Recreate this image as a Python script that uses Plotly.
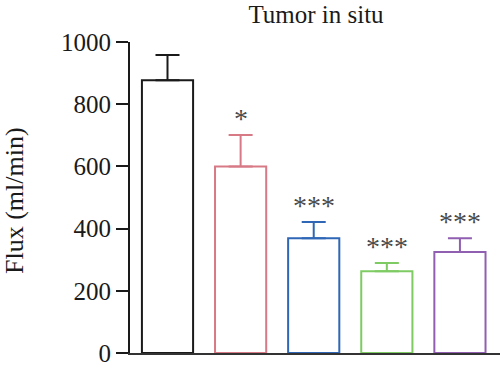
import plotly.graph_objects as go

groups = ["G1", "G2", "G3", "G4", "G5"]
means = [877, 600, 369, 263, 325]
err_up = [81, 101, 52, 26, 44]
stars = ["", "*", "***", "***", "***"]
colors = ["#1a1a1a", "#d87a85", "#2f67b6", "#7fcb63", "#915fb1"]
y_title = "Flux (ml/min)"
chart_title = "Tumor in situ"

xpos = list(range(len(groups)))
FONT = "Liberation Serif, Times New Roman, serif"

fig = go.Figure()
for i, g in enumerate(groups):
    fig.add_trace(go.Bar(
        x=[xpos[i]], y=[means[i]], width=0.70,
        marker=dict(color="white", line=dict(color=colors[i], width=2)),
        error_y=dict(type="data", array=[err_up[i]], arrayminus=[0], symmetric=False,
                     color=colors[i], thickness=2, width=12),
        showlegend=False, name=g,
    ))
    if stars[i]:
        fig.add_annotation(x=xpos[i], y=means[i] + err_up[i], text=stars[i],
                           showarrow=False, yanchor="bottom", yshift=-1,
                           font=dict(family=FONT, size=28, color="#4a4a4a"))

fig.add_annotation(xref="paper", yref="paper", x=(14 - 130) / 370, y=(353 - 201) / 311,
                   text=y_title, textangle=-90, showarrow=False,
                   xanchor="center", yanchor="middle",
                   font=dict(family=FONT, size=26, color="#1a1a1a"))

fig.update_layout(
    width=500, height=368,
    margin=dict(l=130, r=0, t=42, b=15),
    paper_bgcolor="white", plot_bgcolor="white",
    font=dict(family=FONT, size=24, color="#1a1a1a"),
    title=dict(text=chart_title, x=316/500, xanchor="center", y=1 - 14/368, yanchor="middle",
               font=dict(family=FONT, size=25, color="#1a1a1a")),
    bargap=0.3,
)
fig.update_xaxes(range=[-0.513, 4.548], showticklabels=False, ticks="", showgrid=False,
                 zeroline=False, showline=True, linecolor="#333333", linewidth=2)
fig.update_yaxes(range=[0, 1000], tickvals=[0, 200, 400, 600, 800, 1000], ticks="outside",
                 ticklen=12, tickwidth=2, tickcolor="#1a1a1a", showgrid=False, zeroline=False,
                 showline=True, linecolor="#1a1a1a", linewidth=2,
                 tickfont=dict(family=FONT, size=25))

fig.write_html("out.html", config={"displayModeBar": False},
               post_script="document.body.style.margin='0';")
